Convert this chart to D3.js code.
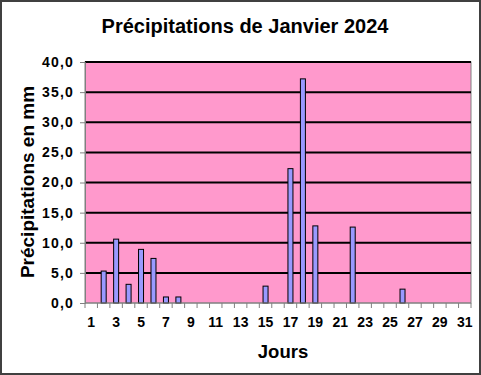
<!DOCTYPE html>
<html>
<head>
<meta charset="utf-8">
<script src="https://cdn.jsdelivr.net/npm/d3@7"></script>
<style>
  body { margin: 0; background: #fff; }
  svg text { font-family: "Liberation Sans", Arial, sans-serif; font-weight: bold; fill: #000; }
</style>
</head>
<body>
<div id="chart"></div>
<script>
// Jours de janvier et précipitations (mm)
const jours = d3.range(1, 32);
const joursPluie = [2, 3, 4, 5, 6, 7, 8, 15, 17, 18, 19, 22, 26];
const pluie = [5.3, 10.6, 3.1, 8.9, 7.4, 1.0, 1.0, 2.8, 22.3, 37.2, 12.8, 12.6, 2.3];
const graduationsY = [0, 5, 10, 15, 20, 25, 30, 35, 40];

const largura = 481, altura = 375;
const zone = { gauche: 85, droite: 471, haut: 62, bas: 303 };

const svg = d3.select('#chart').append('svg')
  .attr('width', largura)
  .attr('height', altura);

// Cadre général
svg.append('rect')
  .attr('x', 1).attr('y', 1)
  .attr('width', largura - 2).attr('height', altura - 2)
  .attr('fill', '#fff')
  .attr('stroke', '#404040')
  .attr('stroke-width', 2);

const x = d3.scaleBand()
  .domain(jours)
  .range([zone.gauche, zone.droite]);

const y = d3.scaleLinear()
  .domain([0, 40])
  .range([zone.bas, zone.haut]);

// Fond rose de la zone de tracé
svg.append('rect')
  .attr('x', zone.gauche).attr('y', zone.haut)
  .attr('width', zone.droite - zone.gauche)
  .attr('height', zone.bas - zone.haut)
  .attr('fill', '#ff99cc')
  .attr('stroke', '#808080')
  .attr('stroke-width', 1);

// Quadrillage horizontal
svg.append('g')
  .selectAll('line')
  .data(graduationsY.filter(d => d > 0))
  .enter()
  .append('line')
  .attr('x1', zone.gauche)
  .attr('x2', zone.droite)
  .attr('y1', d => y(d))
  .attr('y2', d => y(d))
  .attr('stroke', '#000')
  .attr('stroke-width', 2);

// Barres
const largeurBarre = 5;
svg.append('g')
  .selectAll('rect')
  .data(joursPluie.map((j, i) => ({ jour: j, valeur: pluie[i] })))
  .enter()
  .append('rect')
  .attr('x', d => x(d.jour) + x.bandwidth() / 2 - largeurBarre / 2)
  .attr('y', d => y(d.valeur))
  .attr('width', largeurBarre)
  .attr('height', d => y(0) - y(d.valeur))
  .attr('fill', '#9999ff')
  .attr('stroke', '#000')
  .attr('stroke-width', 1);

// Axe Y
const axeY = d3.axisLeft(y)
  .tickValues(graduationsY)
  .tickSize(5)
  .tickFormat(d => d3.format('.1f')(d).replace('.', ','));

const gY = svg.append('g')
  .attr('transform', `translate(${zone.gauche},0)`)
  .call(axeY);
gY.select('.domain').attr('stroke', '#808080');
gY.selectAll('.tick line').attr('stroke', '#808080');
gY.selectAll('.tick text')
  .attr('x', -11)
  .attr('font-size', 14)
  .attr('letter-spacing', '1.2px');

// Axe X : graduations entre les jours, libellés des jours impairs
const gX = svg.append('g')
  .attr('transform', `translate(0,${zone.bas})`);
gX.append('line')
  .attr('x1', zone.gauche).attr('x2', zone.droite)
  .attr('stroke', '#808080');
gX.selectAll('line.graduation')
  .data(jours.concat([32]))
  .enter()
  .append('line')
  .attr('class', 'graduation')
  .attr('x1', d => d <= 31 ? x(d) : zone.droite)
  .attr('x2', d => d <= 31 ? x(d) : zone.droite)
  .attr('y1', 0)
  .attr('y2', 5)
  .attr('stroke', '#808080');
gX.selectAll('text')
  .data(jours.filter(d => d % 2 === 1))
  .enter()
  .append('text')
  .attr('x', d => x(d) + x.bandwidth() / 2)
  .attr('y', 24)
  .attr('text-anchor', 'middle')
  .attr('font-size', 14)
  .text(d => d);

// Titres
svg.append('text')
  .attr('x', 245)
  .attr('y', 33)
  .attr('text-anchor', 'middle')
  .attr('font-size', 20)
  .text('Précipitations de Janvier 2024');

svg.append('text')
  .attr('x', 283)
  .attr('y', 358)
  .attr('text-anchor', 'middle')
  .attr('font-size', 18.5)
  .text('Jours');

svg.append('text')
  .attr('transform', 'translate(34,182) rotate(-90)')
  .attr('text-anchor', 'middle')
  .attr('font-size', 19)
  .text('Précipitations en mm');
</script>
</body>
</html>
